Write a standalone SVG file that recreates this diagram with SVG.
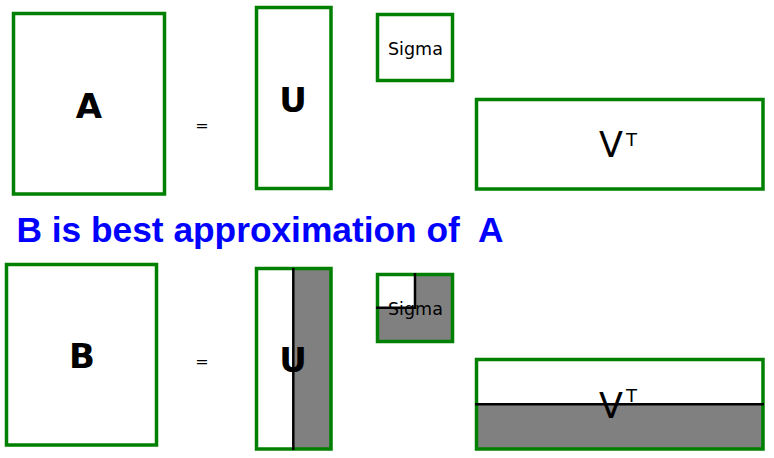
<svg xmlns="http://www.w3.org/2000/svg" width="774" height="458" viewBox="0 0 774 458">
<style>
.box{fill:none;stroke:#008000;stroke-width:3.5}
.shade{fill:#808080}
.cut{stroke:#000;stroke-width:2.5;fill:none}
.big{font-family:"DejaVu Sans",sans-serif;font-weight:bold;font-size:34px;fill:#000;text-anchor:middle}
.lbl{font-family:"DejaVu Sans",sans-serif;font-size:17.5px;fill:#000}
.vt{font-family:"DejaVu Sans",sans-serif;font-size:35px;fill:#000}
.sup{font-family:"DejaVu Sans",sans-serif;font-size:18px;fill:#000}
.eq{font-family:"DejaVu Sans",sans-serif;font-size:16px;fill:#000;text-anchor:middle}
.title{font-family:"Liberation Sans",Arial,sans-serif;font-weight:bold;font-size:35.3px;fill:#0000ff}
</style>
<rect width="774" height="458" fill="#fff"/>
<g id="A"><rect class="box" x="13.5" y="13.5" width="151" height="180.5"/><text class="big" x="89" y="117.5">A</text></g>
<g id="eq1"><text class="eq" x="202" y="131">=</text></g>
<g id="U"><rect class="box" x="256.5" y="7.5" width="74.5" height="181"/><text class="big" x="293" y="111.5">U</text></g>
<g id="Sigma"><rect class="box" x="377.5" y="14.5" width="75" height="66"/><text class="lbl" x="388" y="55">Sigma</text></g>
<g id="VT"><rect class="box" x="476.5" y="99.5" width="286.5" height="89.5"/><text class="vt" x="599" y="156.5">V</text><text class="sup" x="626" y="146">T</text></g>
<g id="title"><text class="title" x="16.5" y="242" xml:space="preserve">B is best approximation of  A</text></g>
<g id="B"><rect class="box" x="6.5" y="264.5" width="150" height="180.5"/><text class="big" x="82" y="368">B</text></g>
<g id="eq2"><text class="eq" x="202" y="367">=</text></g>
<g id="U2"><rect class="shade" x="293.3" y="269" width="37.5" height="180"/><text class="big" x="293" y="372">U</text><rect class="box" x="256.5" y="268.5" width="74.5" height="180.5"/></g>
<g id="Sigma2"><path class="shade" d="M377.5,307.7H415V274.5H452.5V341.5H377.5Z"/><text class="lbl" x="388" y="315">Sigma</text><rect class="box" x="377.5" y="274.5" width="75" height="67"/></g>
<g id="VT2"><rect class="shade" x="476.5" y="404.3" width="286.5" height="44.5"/><text class="vt" x="599" y="417.5">V</text><text class="sup" x="626" y="402">T</text><rect class="box" x="476.5" y="359.5" width="286.5" height="89.5"/></g>
<g id="connectors">
<line class="cut" x1="293.3" y1="268" x2="293.3" y2="450"/>
<polyline class="cut" points="376,307.7 415,307.7 415,273"/>
<line class="cut" x1="475" y1="404.3" x2="764" y2="404.3"/>
</g>
</svg>
